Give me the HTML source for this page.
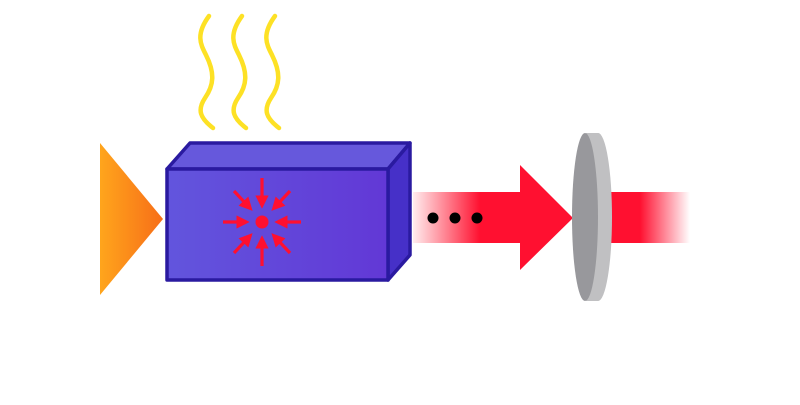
<!DOCTYPE html>
<html><head><style>html,body{margin:0;padding:0;background:#fff;}</style></head>
<body>
<svg width="800" height="400" viewBox="0 0 800 400" xmlns="http://www.w3.org/2000/svg">
<defs>
<linearGradient id="og" x1="0" x2="1"><stop offset="0" stop-color="#ffa51c"/><stop offset="1" stop-color="#f76e18"/></linearGradient>
<linearGradient id="bf" x1="0" x2="1"><stop offset="0" stop-color="#6255dd"/><stop offset="1" stop-color="#6238d6"/></linearGradient>
<linearGradient id="rb" x1="413" x2="480" gradientUnits="userSpaceOnUse"><stop offset="0" stop-color="#ff1830" stop-opacity="0.08"/><stop offset="1" stop-color="#ff1030"/></linearGradient>
<linearGradient id="rb2" x1="640" x2="690" gradientUnits="userSpaceOnUse"><stop offset="0" stop-color="#ff1030"/><stop offset="1" stop-color="#ff1030" stop-opacity="0"/></linearGradient>
<marker id="ah" viewBox="0 0 10 10" refX="5" refY="5" markerWidth="4.2" markerHeight="4.2" orient="auto"><path d="M0,0 L10,5 L0,10 z" fill="#ff1030"/></marker>
</defs>
<g fill="none" stroke="#fde125" stroke-width="4.5" stroke-linecap="round">
<path d="M209,16 C195,35 201,45 206,55 C215,73 214,85 205,98 C197,110 200,118 213,128"/>
<path d="M242,16 C228,35 234,45 239,55 C248,73 247,85 238,98 C230,110 233,118 246,128"/>
<path d="M275,16 C261,35 267,45 272,55 C281,73 280,85 271,98 C263,110 266,118 279,128"/>
</g>
<polygon points="100,143 163,219 100,295" fill="url(#og)"/>
<polygon points="167,169 190,143 410,143 388,169" fill="#6658dc" stroke="#2a1aa0" stroke-width="3.5" stroke-linejoin="round"/>
<polygon points="388,169 410,143 410,255 388,280" fill="#4630c8" stroke="#2a1aa0" stroke-width="3.5" stroke-linejoin="round"/>
<rect x="167" y="169" width="221" height="111" fill="url(#bf)" stroke="#2a1aa0" stroke-width="3.5" stroke-linejoin="round"/>
<circle cx="262" cy="222" r="6.5" fill="#ff1030"/>
<g stroke="#ff1030" stroke-width="3.2" marker-end="url(#ah)">
<line x1="262" y1="178" x2="262" y2="202"/>
<line x1="262" y1="266" x2="262" y2="242"/>
<line x1="223" y1="222" x2="243" y2="222"/>
<line x1="301" y1="222" x2="281" y2="222"/>
<line x1="234" y1="191" x2="248" y2="206"/>
<line x1="290" y1="191" x2="276" y2="206"/>
<line x1="234" y1="253" x2="248" y2="238"/>
<line x1="290" y1="253" x2="276" y2="238"/>
</g>
<polygon points="413,192 520,192 520,165 573,218 520,270 520,243 413,243" fill="url(#rb)"/>
<circle cx="433" cy="218" r="5.5" fill="#000"/>
<circle cx="455" cy="218" r="5.5" fill="#000"/>
<circle cx="477" cy="218" r="5.5" fill="#000"/>
<rect x="605" y="192" width="88" height="51" fill="url(#rb2)"/>
<path d="M586,133 L598,133 A14,84 0 0 1 598,301 L586,301 z" fill="#c0c0c2"/>
<ellipse cx="598" cy="217" rx="13" ry="84" fill="#c0c0c2"/>
<ellipse cx="585" cy="217" rx="13" ry="84" fill="#98989c"/>
</svg>
</body></html>
